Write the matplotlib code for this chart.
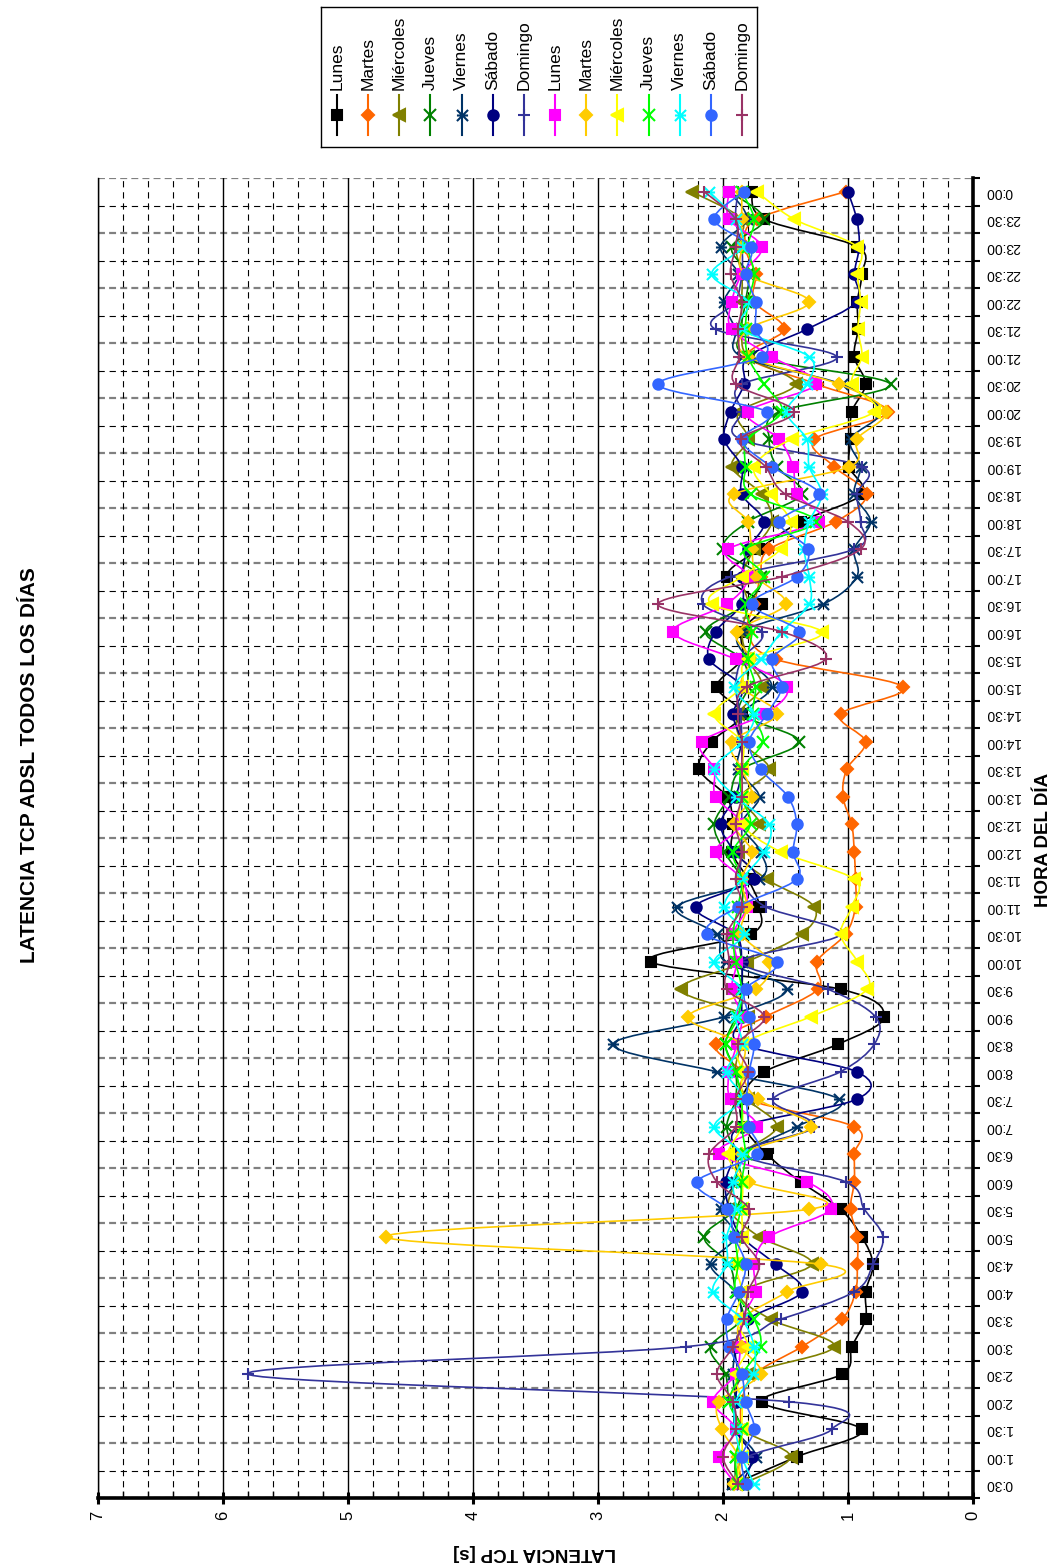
import numpy as np
import matplotlib
matplotlib.use("Agg")
import matplotlib.pyplot as plt
from matplotlib.path import Path
from matplotlib.patches import PathPatch
from matplotlib.ticker import MultipleLocator

plt.rcParams['font.family'] = ['Liberation Sans', 'DejaVu Sans']
plt.rcParams['lines.scale_dashes'] = False

# half-hour slots, 0:30 .. 0:00 (next day)
hours = ["0:30", "1:00", "1:30", "2:00", "2:30", "3:00", "3:30", "4:00", "4:30", "5:00",
         "5:30", "6:00", "6:30", "7:00", "7:30", "8:00", "8:30", "9:00", "9:30", "10:00",
         "10:30", "11:00", "11:30", "12:00", "12:30", "13:00", "13:30", "14:00", "14:30", "15:00",
         "15:30", "16:00", "16:30", "17:00", "17:30", "18:00", "18:30", "19:00", "19:30", "20:00",
         "20:30", "21:00", "21:30", "22:00", "22:30", "23:00", "23:30", "0:00"]

# latency in seconds, one list per series (same order as the legend)
lunes_1 = [1.92, 1.41, 0.89, 1.69, 1.05, 0.97, 0.86, 0.86, 0.80, 0.89, 1.06, 1.38, 1.65, 1.83, 1.85, 1.67,
           1.08, 0.71, 1.06, 2.58, 1.78, 1.71, 1.80, 1.93, 1.92, 1.97, 2.19, 2.09, 1.85, 2.05, 1.85, 1.85,
           1.69, 1.97, 1.71, 1.38, 0.89, 0.99, 0.98, 0.97, 0.86, 0.95, 0.92, 0.925, 0.89, 0.925, 1.67, 1.77]
martes_1 = [1.85, 1.88, 1.86, 1.85, 1.75, 1.37, 1.05, 0.94, 0.925, 0.925, 0.98, 0.95, 0.95, 0.95, 1.80, 1.85,
            2.06, 1.66, 1.24, 1.25, 1.02, 0.94, 0.94, 0.95, 0.97, 1.04, 1.01, 0.86, 1.06, 0.56, 1.58, 1.80,
            1.75, 1.70, 1.63, 1.10, 0.85, 1.11, 1.27, 0.68, 1.25, 1.80, 1.51, 1.75, 1.74, 1.82, 1.73, 1.02]
miercoles_1 = [1.85, 1.46, 1.85, 1.90, 1.80, 1.11, 1.62, 1.85, 1.29, 1.71, 1.95, 1.90, 1.85, 1.57, 1.80, 1.90,
               1.85, 1.80, 2.34, 1.81, 1.37, 1.27, 1.65, 1.88, 1.71, 1.85, 1.63, 1.85, 1.88, 1.69, 1.80, 1.85,
               1.80, 1.85, 1.75, 1.61, 1.69, 1.93, 1.80, 1.87, 1.42, 1.80, 1.85, 1.85, 1.85, 1.90, 1.85, 2.25]
jueves_1 = [1.90, 1.90, 1.85, 1.95, 1.98, 2.10, 1.85, 1.90, 1.95, 2.15, 1.90, 1.85, 1.90, 1.97, 1.90, 1.90,
            1.98, 1.90, 1.85, 1.85, 1.88, 1.85, 1.85, 1.99, 2.07, 1.95, 1.85, 1.39, 1.85, 1.80, 1.85, 2.14,
            1.82, 1.70, 2.00, 1.80, 1.37, 1.57, 1.63, 1.55, 0.66, 1.78, 1.85, 1.82, 1.80, 1.93, 1.67, 1.95]
viernes_1 = [1.93, 1.74, 1.90, 1.90, 1.92, 1.90, 1.85, 1.90, 2.10, 1.90, 2.02, 1.90, 1.85, 1.41, 1.07, 2.05,
             2.88, 1.99, 1.49, 1.98, 2.05, 2.37, 1.71, 1.70, 1.85, 1.71, 1.88, 1.85, 1.85, 1.61, 1.80, 1.85,
             1.20, 0.93, 0.95, 0.82, 0.95, 0.90, 0.98, 0.74, 1.05, 1.85, 1.90, 1.99, 1.88, 2.02, 1.81, 1.95]
sabado_1 = [1.85, 1.77, 1.90, 1.90, 1.88, 1.90, 1.80, 1.37, 1.58, 1.85, 1.95, 1.98, 1.90, 1.85, 0.93, 0.93,
            1.85, 1.85, 1.85, 1.85, 1.90, 2.22, 1.75, 1.91, 2.02, 1.90, 1.85, 1.85, 1.92, 1.85, 2.11, 2.06,
            1.85, 1.85, 1.80, 1.67, 1.85, 1.85, 1.99, 1.94, 1.83, 1.80, 1.33, 0.93, 0.95, 0.91, 0.93, 1.00]
domingo_1 = [1.90, 1.80, 1.13, 1.47, 5.80, 2.30, 1.54, 0.95, 0.80, 0.72, 0.87, 1.02, 1.85, 1.27, 1.60, 1.06,
             0.79, 0.78, 1.16, 1.85, 1.06, 1.66, 1.85, 1.85, 1.85, 1.85, 1.85, 1.85, 1.86, 1.90, 1.85, 1.69,
             2.16, 1.94, 0.95, 0.90, 0.93, 0.89, 1.86, 1.85, 1.85, 1.09, 2.06, 1.90, 1.85, 1.85, 1.90, 1.88]
lunes_2 = [1.90, 2.03, 1.90, 2.08, 1.90, 1.86, 1.85, 1.74, 1.75, 1.63, 1.14, 1.33, 2.03, 1.73, 1.94, 1.95,
           1.89, 1.85, 1.93, 1.89, 1.92, 1.81, 1.85, 2.06, 1.86, 2.06, 2.07, 2.17, 1.67, 1.49, 1.90, 2.40,
           1.97, 1.80, 1.96, 1.23, 1.41, 1.44, 1.55, 1.80, 1.26, 1.61, 1.93, 1.93, 1.85, 1.69, 1.95, 1.95]
martes_2 = [1.91, 1.88, 2.01, 2.03, 1.70, 1.85, 1.85, 1.49, 1.22, 4.70, 1.31, 1.79, 1.85, 1.30, 1.72, 1.85,
            1.85, 2.28, 1.74, 1.63, 1.85, 1.81, 1.85, 1.77, 1.91, 1.77, 1.85, 1.93, 1.57, 1.85, 1.78, 1.89,
            1.50, 1.73, 1.77, 1.80, 1.91, 0.99, 0.93, 0.70, 1.07, 1.80, 1.80, 1.31, 1.82, 1.85, 1.85, 1.85]
miercoles_2 = [1.90, 1.85, 1.85, 1.85, 1.90, 1.80, 1.90, 1.85, 1.90, 1.85, 1.85, 1.85, 1.96, 1.85, 1.85, 1.85,
               1.85, 1.30, 0.845, 0.925, 1.06, 0.97, 0.95, 1.54, 1.85, 1.85, 1.85, 1.85, 2.07, 1.85, 1.80, 1.21,
               2.09, 1.85, 1.54, 1.46, 1.62, 1.75, 1.45, 0.79, 0.97, 0.89, 0.92, 0.90, 0.925, 0.925, 1.43, 1.73]
jueves_2 = [1.88, 1.90, 1.85, 1.95, 1.85, 1.70, 1.75, 1.90, 1.88, 1.90, 1.86, 1.85, 1.82, 1.85, 1.85, 1.90,
            1.98, 1.88, 1.85, 1.90, 1.92, 1.88, 1.85, 1.92, 1.78, 1.85, 1.85, 1.68, 1.76, 1.74, 1.80, 1.77,
            1.82, 1.67, 1.82, 1.26, 1.78, 1.82, 1.80, 1.53, 1.67, 1.80, 1.82, 1.80, 1.75, 1.80, 1.75, 1.85]
viernes_2 = [1.75, 1.85, 1.90, 1.90, 1.76, 1.75, 1.85, 2.08, 1.97, 1.97, 1.90, 1.92, 1.85, 2.07, 1.85, 1.97,
             1.85, 1.90, 1.85, 2.07, 1.83, 1.99, 1.85, 1.67, 1.63, 1.90, 2.07, 1.85, 1.75, 1.91, 1.70, 1.53,
             1.31, 1.31, 1.35, 1.31, 1.21, 1.31, 1.33, 1.49, 1.33, 1.31, 1.85, 1.80, 2.09, 1.85, 1.90, 2.11]
sabado_2 = [1.82, 1.85, 1.75, 1.82, 1.85, 1.95, 1.97, 1.87, 1.82, 1.91, 1.97, 2.21, 1.73, 1.79, 1.81, 1.79,
            1.75, 1.79, 1.82, 1.57, 2.13, 1.88, 1.41, 1.44, 1.41, 1.48, 1.70, 1.79, 1.65, 1.53, 1.61, 1.39,
            1.77, 1.41, 1.32, 1.55, 1.23, 1.61, 1.85, 1.65, 2.52, 1.69, 1.74, 1.74, 1.82, 1.78, 2.07, 1.83]
domingo_2 = [1.88, 2.00, 1.90, 1.92, 2.05, 1.92, 1.83, 1.80, 1.71, 1.85, 1.79, 2.05, 2.11, 1.90, 1.90, 1.80,
             1.88, 1.67, 1.97, 1.95, 1.97, 1.85, 1.90, 1.85, 1.90, 1.85, 1.85, 1.85, 1.88, 1.81, 1.18, 1.53,
             2.52, 1.53, 0.90, 1.00, 1.50, 1.66, 1.86, 1.43, 1.90, 1.87, 1.88, 1.85, 1.94, 1.90, 1.90, 2.15]

names = ["Lunes", "Martes", "Miércoles", "Jueves", "Viernes", "Sábado", "Domingo",
         "Lunes", "Martes", "Miércoles", "Jueves", "Viernes", "Sábado", "Domingo"]
series = [lunes_1, martes_1, miercoles_1, jueves_1, viernes_1, sabado_1, domingo_1,
          lunes_2, martes_2, miercoles_2, jueves_2, viernes_2, sabado_2, domingo_2]
colors = ["#000000", "#FF6600", "#808000", "#008000", "#003366", "#000080", "#333399",
          "#FF00FF", "#FFCC00", "#FFFF00", "#00FF00", "#00FFFF", "#3366FF", "#993366"]

# asterisk marker (x plus a bar), chart is turned on its side
star = Path([(-1, -1), (1, 1), (-1, 1), (1, -1), (-1, 0), (1, 0)],
            [Path.MOVETO, Path.LINETO, Path.MOVETO, Path.LINETO, Path.MOVETO, Path.LINETO])
markers = ["s", "D", "<", "x", star, "o", "+", "s", "D", "<", "x", star, "o", "+"]
msizes = [7.5, 6.5, 8, 8, 8, 7.5, 9, 7.5, 6.5, 8, 8, 8, 7.5, 9]


def smooth_path(xs, ys):
    # catmull-rom through the points, like the spreadsheet "smoothed line"
    pts = np.column_stack([xs, ys]).astype(float)
    n = len(pts)
    verts = [pts[0]]
    codes = [Path.MOVETO]
    for i in range(n - 1):
        p0 = pts[i - 1] if i > 0 else pts[i]
        p1 = pts[i]
        p2 = pts[i + 1]
        p3 = pts[i + 2] if i + 2 < n else pts[i + 1]
        verts += [p1 + (p2 - p0) / 6, p2 - (p3 - p1) / 6, p2]
        codes += [Path.CURVE4] * 3
    return Path(verts, codes)


W, H = 1056, 1568
fig = plt.figure(figsize=(W / 100, H / 100), dpi=100)
ax = fig.add_axes([98 / W, 70 / H, 875 / W, 1320 / H])

slots = np.arange(len(hours))
for i, vals in enumerate(series):
    z = 3 + i * 0.1
    ax.add_patch(PathPatch(smooth_path(vals, slots), fill=False, edgecolor=colors[i], lw=1.2, zorder=z))
    ax.plot(vals, slots, ls="none", marker=markers[i], ms=msizes[i], color=colors[i],
            mec=colors[i], mew=1.5, zorder=z + 0.05)

ax.set_xlim(7, 0)
ax.set_ylim(-0.5, len(hours) - 0.5)

# grid
ax.xaxis.set_major_locator(MultipleLocator(1))
ax.xaxis.set_minor_locator(MultipleLocator(0.2))
ax.grid(which="major", axis="x", color="black", lw=1, ls="-", zorder=1)
ax.grid(which="minor", axis="x", color="black", lw=0.8, ls=(0, (4.5, 3.5)), zorder=1)
for j, yy in enumerate(np.arange(-0.5, len(hours), 1.0)):
    if j % 2 == 0:
        ax.axhline(yy, color="#808080", lw=1.6, ls=(0, (5, 3)), zorder=1.1)
    else:
        ax.axhline(yy, color="black", lw=0.8, ls=(0, (4.5, 3.5)), zorder=1.1)

# time axis on the right
ax.yaxis.tick_right()
ax.set_yticks(slots)
ax.set_yticklabels(hours)
ax.set_yticks(np.arange(-0.5, len(hours), 1.0), minor=True)
ax.tick_params(axis="y", which="major", length=0, pad=9, labelsize=10, labelrotation=180)
ax.tick_params(axis="y", which="minor", direction="out", length=5, width=1.5)
for lab in ax.get_yticklabels():
    lab.set_va("center")

ax.tick_params(axis="x", which="major", direction="inout", length=9, width=2.2,
               labelsize=12, labelrotation=90, pad=5)
ax.tick_params(axis="x", which="minor", direction="in", length=5, width=1)

for side in ["right", "bottom"]:
    ax.spines[side].set_linewidth(2.6)
ax.spines["left"].set_linewidth(1)
ax.spines["top"].set_visible(False)

fig.text(30 / W, 1 - 765 / H, "LATENCIA TCP ADSL TODOS LOS DÍAS", rotation=90,
         ha="center", va="center", fontsize=15, fontweight="bold")
fig.text(1044 / W, 1 - 840 / H, "HORA DEL DÍA", rotation=90,
         ha="center", va="center", fontsize=13.5, fontweight="bold")
fig.text(535 / W, 1 - 1553 / H, "LATENCIA TCP [s]", rotation=180,
         ha="center", va="center", fontsize=13.5, fontweight="bold")

# legend box along the top, one column per series
lax = fig.add_axes([321 / W, 1 - 147 / H, 436 / W, 140 / H])
lax.set_xlim(321, 757)
lax.set_ylim(147, 7)
lax.set_xticks([])
lax.set_yticks([])
for s in lax.spines.values():
    s.set_linewidth(1)
for i, name in enumerate(names):
    cx = 337 + i * 31.15
    lax.plot([cx, cx], [95, 135], color=colors[i], lw=1.5)
    lax.plot([cx], [115], ls="none", marker=markers[i], ms=msizes[i], color=colors[i],
             mec=colors[i], mew=1.5)
    lax.text(cx, 90, name, rotation=90, ha="center", va="bottom", fontsize=12.5)

fig.savefig("out.png", dpi=100)
